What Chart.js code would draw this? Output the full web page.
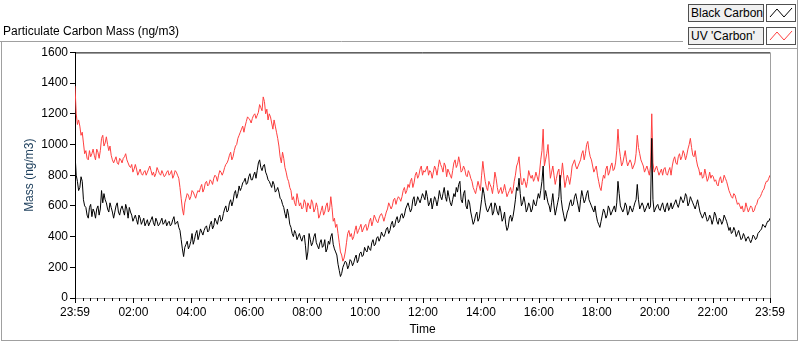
<!DOCTYPE html>
<html>
<head>
<meta charset="utf-8">
<title>Particulate Carbon Mass</title>
<script src="https://cdn.jsdelivr.net/npm/chart.js@4.4.0/dist/chart.umd.min.js"></script>
<style>
  body { margin: 0; background: #fff; font-family: "Liberation Sans", Arial, sans-serif; }
  #wrap { position: relative; width: 800px; height: 342px; }
  #chart { position: absolute; left: 0; top: 0; }
  .leg-text { position: absolute; left: 688px; width: 76px; height: 18px; box-sizing: border-box; white-space: nowrap;
    border: 1px solid #505050; background: #f0f0f0; font-size: 12px; line-height: 16px; padding-left: 2px; color: #000; }
  .leg-icon { position: absolute; left: 766px; width: 30px; height: 18px; box-sizing: border-box;
    border: 1px solid #505050; background: #fff; }
  .leg-icon svg { display: block; }
</style>
</head>
<body>
<div id="wrap">
  <canvas id="chart" width="800" height="342"></canvas>
  <div id="legend"></div>
</div>
<script>
// minutes after 23:59; main samples every 5 min, "Mid" samples 2.5 min after each
var sampleStep = 5;

var tickMinutes = [0, 121, 241, 361, 481, 601, 721, 841, 961, 1081, 1201, 1321, 1440];
var tickLabels = ["23:59", "02:00", "04:00", "06:00", "08:00", "10:00", "12:00",
                  "14:00", "16:00", "18:00", "20:00", "22:00", "23:59"];

var seriesNames = ["Black Carbon", "UV 'Carbon'"];
var seriesColors = ["#000000", "#ff4040"];

var blackCarbon = [
  940,760,720,760,600,540,590,530,560,580,540,700,680,620,560,590,520,600,560,580,570,610,520,560,500,
  540,480,520,500,470,510,490,530,470,500,480,520,490,470,500,480,530,490,460,380,270,350,320,370,
  350,420,380,450,410,460,430,480,450,520,480,540,510,580,560,620,600,680,650,730,720,760,740,790,770,
  800,780,880,850,860,820,770,740,760,690,720,650,610,550,580,480,420,440,380,420,370,410,250,
  420,340,400,360,320,380,340,300,370,400,350,300,220,140,200,240,190,250,210,260,230,290,270,330,300,
  320,360,340,390,370,430,400,450,420,480,460,510,490,540,520,580,620,560,640,600,660,620,680,640,660,
  620,580,660,600,700,640,720,630,660,600,680,720,740,640,680,600,640,560,480,540,500,580,720,620,560,
  600,540,620,560,600,500,560,440,520,500,580,720,780,600,660,560,620,560,640,600,680,700,860,
  700,620,560,680,540,620,800,580,500,560,620,600,660,640,560,700,620,680,640,600,560,540,480,500,580,
  520,600,540,580,560,760,600,560,620,540,600,560,620,740,580,620,560,600,580,1040,560,600,580,600,
  580,600,570,620,600,640,590,660,620,680,600,660,620,580,640,560,520,560,500,540,480,560,500,520,480,
  540,500,440,420,460,400,440,380,420,370,400,360,410,380,420,440,480,460,500,520
];

var blackCarbonMid = [
  800,700,790,640,590,520,610,580,520,600,580,620,640,580,620,560,560,620,540,600,540,580,590,540,520,
  510,540,480,520,490,470,510,490,520,470,500,480,510,490,470,510,480,500,440,320,330,370,340,
  420,380,440,410,430,440,470,440,500,470,500,520,500,550,600,570,640,630,700,680,700,750,780,750,810,
  770,820,830,900,830,870,800,760,720,740,700,690,640,590,520,540,460,400,420,400,390,400,340,
  300,380,360,420,340,360,330,380,320,350,420,320,280,180,160,220,230,210,240,230,280,250,300,280,310,
  340,310,380,350,400,390,410,420,460,440,500,470,530,500,550,540,600,590,580,660,620,640,650,660,700,
  600,650,620,640,640,660,680,660,700,620,640,660,690,760,620,700,580,620,520,500,560,520,640,680,580,
  580,620,560,600,540,560,520,480,460,540,530,640,700,680,620,620,580,600,580,610,640,650,760,
  640,660,600,620,600,580,660,640,540,520,580,640,610,680,600,640,660,640,700,620,580,600,500,460,540,
  560,540,580,560,600,620,680,580,580,600,560,580,590,640,640,600,600,580,620,600,640,580,610,570,
  620,560,620,590,580,620,610,620,640,640,660,620,640,600,610,600,540,540,530,510,520,510,540,480,510,
  500,520,470,460,430,440,420,410,390,400,390,380,380,400,390,430,450,470,480,500
];

var uvCarbon = [
  1380,1130,1120,1080,940,910,960,940,930,970,910,1040,990,1050,960,930,880,920,870,900,910,940,880,850,820,
  870,800,840,800,830,820,860,800,790,850,810,830,790,820,800,830,800,820,780,650,540,650,670,660,
  690,650,700,720,690,750,730,770,740,800,760,830,800,850,880,930,900,960,1000,1060,1100,1080,1150,1170,1140,
  1190,1170,1210,1240,1310,1200,1160,1180,1100,1120,1040,920,950,850,780,720,640,620,680,600,580,640,560,
  600,640,560,620,520,570,540,600,560,660,500,460,420,300,240,300,420,400,380,440,420,460,430,470,440,
  500,470,540,500,520,550,500,560,620,580,640,610,660,630,700,680,740,760,720,800,780,840,800,820,860,
  830,780,860,800,900,850,880,790,820,780,880,850,920,820,860,800,830,780,720,680,760,700,890,760,700,
  740,680,820,720,700,680,740,660,700,680,760,860,920,740,780,720,830,780,760,820,760,900,1100,
  900,1000,780,860,740,820,760,880,720,800,740,860,900,840,880,940,900,1000,960,900,820,860,760,700,800,
  840,800,860,830,880,1100,920,880,960,860,900,840,880,1060,940,880,820,860,800,1200,820,860,800,840,
  840,810,830,800,900,880,920,900,960,900,970,1040,930,960,860,800,780,840,760,820,800,760,740,770,750,
  800,760,700,660,680,640,620,580,560,620,560,600,560,600,640,660,700,740,760,800
];

var uvCarbonMid = [
  1200,1160,1060,1010,960,900,920,970,900,950,960,1060,1010,1000,990,900,900,880,910,880,920,900,860,870,840,
  840,820,810,820,800,840,830,820,810,830,800,810,800,830,810,780,830,800,720,580,620,680,640,
  700,670,680,690,740,710,760,740,760,780,790,800,820,820,870,900,950,920,990,1040,1080,1120,1120,1180,1160,
  1170,1200,1190,1260,1220,1280,1230,1200,1140,1160,1080,990,880,910,820,760,700,660,600,640,620,590,620,
  620,580,620,580,590,540,600,560,620,580,590,520,480,360,280,260,360,440,420,400,470,440,480,450,480,
  460,520,500,520,490,540,530,530,580,600,600,650,640,650,660,720,700,720,780,750,820,800,860,830,840,
  800,820,820,840,850,870,820,860,840,800,830,900,870,880,830,840,790,810,760,700,720,730,800,820,720,
  760,720,740,780,680,720,700,700,680,720,700,800,880,820,740,760,760,800,800,780,790,820,960,
  860,940,880,820,800,780,840,800,800,760,780,790,880,860,860,900,960,940,1020,920,860,840,800,720,760,
  780,860,820,880,840,960,980,860,920,900,880,880,860,940,980,900,860,840,830,860,880,840,830,820,
  800,850,800,850,860,920,870,940,920,940,930,1000,980,920,900,840,820,790,800,780,780,790,770,730,790,
  760,780,730,680,650,670,610,600,600,570,590,580,590,570,610,650,680,710,760,780
];

function toPoints(values, midValues) {
  var pts = [];
  for (var i = 0; i < values.length; i++) {
    pts.push({ x: i * sampleStep, y: values[i] });
    if (i < midValues.length) {
      pts.push({ x: i * sampleStep + sampleStep / 2, y: midValues[i] });
    }
  }
  return pts;
}

// grey panel outline, plot frame and the time axis tick marks
var framePlugin = {
  id: "frame",
  beforeDraw: function(chart) {
    var ctx = chart.ctx;
    ctx.save();
    ctx.fillStyle = "#fff";
    ctx.fillRect(0, 0, chart.width, chart.height);
    ctx.strokeStyle = "#a0a0a0";
    ctx.lineWidth = 1;
    ctx.beginPath();
    ctx.moveTo(0, 41.5); ctx.lineTo(683, 41.5);
    ctx.moveTo(1.5, 41); ctx.lineTo(1.5, 341);
    ctx.moveTo(1, 340.5); ctx.lineTo(798, 340.5);
    ctx.moveTo(797.5, 0); ctx.lineTo(797.5, 341);
    ctx.moveTo(688, 48.5); ctx.lineTo(798, 48.5);
    ctx.stroke();
    ctx.restore();
  },
  afterDraw: function(chart) {
    var ctx = chart.ctx;
    var area = chart.chartArea;
    var x = chart.scales.x;
    ctx.save();
    ctx.lineWidth = 1;
    ctx.strokeStyle = "#000";
    ctx.beginPath();
    ctx.moveTo(area.left, area.top + 0.5); ctx.lineTo(area.right, area.top + 0.5);
    ctx.stroke();
    ctx.strokeStyle = "#a0a0a0";
    ctx.beginPath();
    ctx.moveTo(area.right + 0.5, area.top); ctx.lineTo(area.right + 0.5, area.bottom);
    ctx.stroke();

    ctx.strokeStyle = "#000";
    ctx.beginPath();
    for (var k = 0; k < 96; k++) {
      if (k > 0 && k % 8 === 0) continue;
      var px = Math.round(x.getPixelForValue(1 + k * 15)) + 0.5;
      ctx.moveTo(px, area.bottom); ctx.lineTo(px, area.bottom + 3);
    }
    for (var i = 0; i < tickMinutes.length; i++) {
      var mx = Math.round(x.getPixelForValue(tickMinutes[i])) + 0.5;
      ctx.moveTo(mx, area.bottom); ctx.lineTo(mx, area.bottom + 5);
    }
    ctx.stroke();
    ctx.restore();
  }
};

Chart.defaults.font.family = '"Liberation Sans", Arial, sans-serif';
Chart.defaults.font.size = 12;
Chart.defaults.color = "#000";

var ctx = document.getElementById("chart").getContext("2d");

var chart = new Chart(ctx, {
  type: "line",
  data: {
    datasets: [
      { label: seriesNames[0], data: toPoints(blackCarbon, blackCarbonMid), borderColor: seriesColors[0], borderWidth: 1, pointRadius: 0, tension: 0 },
      { label: seriesNames[1], data: toPoints(uvCarbon, uvCarbonMid), borderColor: seriesColors[1], borderWidth: 1, pointRadius: 0, tension: 0 }
    ]
  },
  options: {
    responsive: false,
    devicePixelRatio: 1,
    animation: false,
    layout: { padding: { left: 3, right: 30, top: 0, bottom: 0 } },
    plugins: {
      legend: { display: false },
      tooltip: { enabled: false },
      title: {
        display: true,
        text: "Particulate Carbon Mass (ng/m3)",
        align: "start",
        color: "#000",
        font: { size: 12, weight: "normal" },
        padding: { top: 24, bottom: 14 }
      }
    },
    scales: {
      x: {
        type: "linear",
        min: 0,
        max: 1440,
        afterFit: function(scale) { scale.height = 44; },
        afterBuildTicks: function(scale) {
          scale.ticks = tickMinutes.map(function(v) { return { value: v }; });
        },
        grid: { display: false, drawTicks: false },
        border: { display: true, color: "#a0a0a0" },
        ticks: {
          autoSkip: false,
          maxRotation: 0,
          padding: 7,
          color: "#000",
          callback: function(value, index) { return tickLabels[index]; }
        },
        title: { display: true, text: "Time", color: "#000", padding: { top: 0, bottom: 5 } }
      },
      y: {
        min: 0,
        max: 1600,
        afterFit: function(scale) { scale.width = 72; },
        grid: { display: true, drawOnChartArea: false, drawTicks: true, tickLength: 5, tickColor: "#000" },
        border: { display: true, color: "#000" },
        ticks: {
          stepSize: 200,
          padding: 2,
          color: "#000",
          callback: function(value) { return String(value); }
        },
        title: { display: true, text: "Mass (ng/m3)", color: "#1d3f5c", padding: { top: 19, bottom: 0 } }
      }
    }
  },
  plugins: [framePlugin]
});

// legend boxes in the top right panel
var legendBox = document.getElementById("legend");
for (var i = 0; i < seriesNames.length; i++) {
  var rowTop = 4 + i * 23;
  var label = document.createElement("div");
  label.className = "leg-text";
  label.style.top = rowTop + "px";
  label.textContent = seriesNames[i];
  legendBox.appendChild(label);

  var icon = document.createElement("div");
  icon.className = "leg-icon";
  icon.style.top = rowTop + "px";
  icon.innerHTML = '<svg width="28" height="16"><polyline points="3,12 10,4 17,12 25,3" fill="none" stroke="' +
    seriesColors[i] + '" stroke-width="1"/></svg>';
  legendBox.appendChild(icon);
}
</script>
</body>
</html>
